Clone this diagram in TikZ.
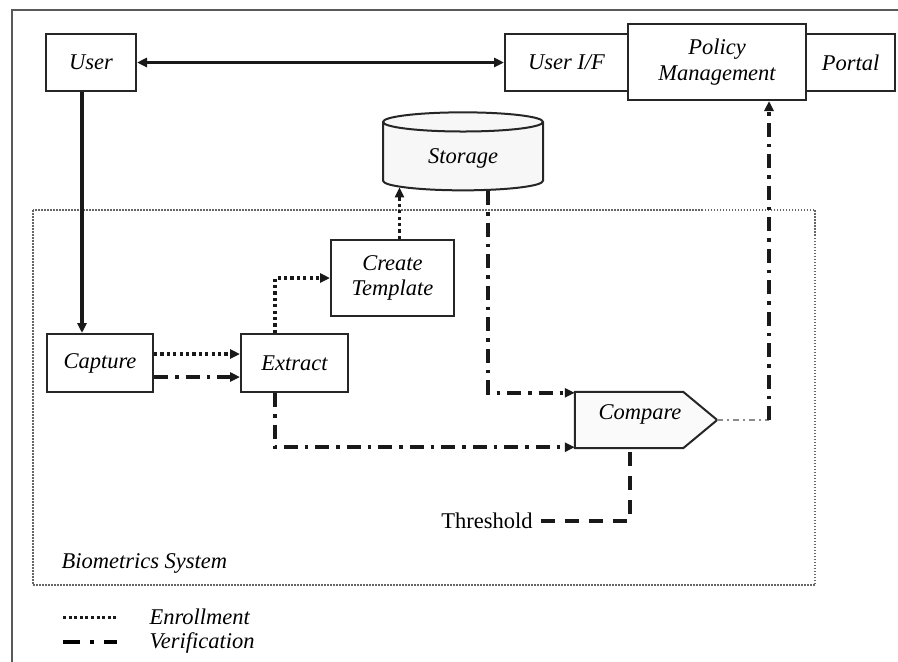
\documentclass[tikz,border=0pt]{standalone}
\usepackage{fontspec}
\setmainfont{Liberation Serif}
\usetikzlibrary{arrows.meta,shapes.geometric,calc}

\begin{document}
\begin{tikzpicture}[x=1pt,y=-1pt,
  every node/.style={font=\fontsize{22.5}{25.5}\selectfont\itshape},
  box/.style={draw=black!85, line width=2pt, fill=white, inner sep=2pt, align=center},
  arrowhd/.style={-{Triangle[length=10pt,width=9pt]}},
  solidflow/.style={line width=3.6pt, black!90},
  enroll/.style={line width=3.4pt, dash pattern=on 3.2pt off 3.2pt, black!90},
  verif/.style={line width=3.6pt, dash pattern=on 14pt off 7pt on 3.5pt off 7pt, black!90},
  verifthin/.style={line width=1.6pt, dash pattern=on 6pt off 4pt on 2pt off 4pt, black!45},
  thresh/.style={line width=3.8pt, dash pattern=on 14pt off 10pt, black!90},
  sysframe/.style={draw=black!60, line width=1.5pt, dash pattern=on 1.5pt off 1.5pt},
]
\useasboundingbox (0,0) rectangle (898,662);

% outer frame (left and top edges)
\draw[black!65, line width=2.4pt] (12,662) -- (12,10) -- (898,10);

% biometrics system boundary
\draw[sysframe] (33,210) rectangle (815,585);
\node[anchor=west] (syslabel) at (58,563) {Biometrics System};

% top row
\node[box, minimum width=90pt, minimum height=57pt] (user) at (91,62.5) {User};
\node[box, minimum width=123pt, minimum height=57pt] (userif) at (566.5,62.5) {User I/F};
\node[box, minimum width=89pt, minimum height=57pt] (portal) at (850.5,62.5) {Portal};
\node[box, minimum width=178pt, minimum height=76pt] (policy) at (717,62) {Policy\\Management};

% storage
\node[cylinder, shape border rotate=90, aspect=0.25, draw=black!85, line width=2pt,
      fill=black!3, minimum width=160pt, minimum height=78pt] (storage) at (463,158) {Storage};

% processing steps
\node[box, minimum width=123pt, minimum height=76pt] (ct) at (392.5,278) {Create\\Template};
\node[box, minimum width=106pt, minimum height=58pt] (capture) at (100,363) {Capture};
\node[box, minimum width=107pt, minimum height=58pt] (extract) at (294.5,363) {Extract};

% compare (pointed box)
\node[minimum width=108pt, minimum height=56pt, inner sep=0pt] (compare) at (629,420) {};
\coordinate (cmptip) at ($(compare.east)+(34,0)$);
\draw[black!85, line width=2pt, fill=green!4!black!2]
  (compare.north west) -- (compare.north east) -- (cmptip) -- (compare.south east)
  -- (compare.south west) -- cycle;
\node (comparetxt) at (640,414) {Compare};

\node[font=\fontsize{22.5}{25.5}\selectfont\upshape, inner sep=0pt] (threshold) at (487,521) {Threshold};

% user interaction
\draw[solidflow, {Triangle[length=10pt,width=9pt]}-{Triangle[length=10pt,width=9pt]}]
  (user.east) -- (userif.west);
\draw[solidflow, arrowhd] ([xshift=-9pt]user.south) -- ([xshift=-9pt]user.south |- capture.north);

% enrollment path
\draw[enroll, arrowhd] ([yshift=9pt]capture.east) -- ([yshift=9pt]capture.east -| extract.west);
\draw[enroll, arrowhd] ([xshift=-19.5pt]extract.north) |- (ct.west);
\coordinate (stbot) at ($(storage.south)+(0,-4)$);
\draw[enroll, arrowhd] ([xshift=7pt]ct.north) -- ([xshift=7pt]ct.north |- stbot);

% verification path
\draw[verif, arrowhd] ([yshift=-14pt]capture.east) -- ([yshift=-14pt]capture.east -| extract.west);
\draw[verif, arrowhd] ([xshift=25pt]storage.south) |- ([yshift=-1pt]compare.north west);
\draw[verif, arrowhd] ([xshift=-19.5pt]extract.south) |- ([yshift=1pt]compare.south west);
\coordinate (turn) at ([xshift=52pt]policy.south |- cmptip);
\draw[verifthin] (cmptip) -- (turn);
\draw[verif, arrowhd] (turn) -- ([xshift=52pt]policy.south);
\draw[thresh] ([xshift=8pt]threshold.east) -| ([xshift=1pt]compare.south);

% legend
\coordinate (lg1a) at (63,617);
\coordinate (lg1b) at (117,617);
\coordinate (lg2a) at (63,642);
\coordinate (lg2b) at (117,642);
\draw[enroll, line width=3pt, dash pattern=on 3pt off 2.6pt] (lg1a) -- (lg1b);
\draw[line width=3.8pt, dash pattern=on 17pt off 10pt on 4pt off 10pt] (lg2a) -- (lg2b);
\node[anchor=west] (enrolltxt) at (146,617) {Enrollment};
\node[anchor=west] (veriftxt) at (146,643) {Verification};
\end{tikzpicture}
\end{document}
